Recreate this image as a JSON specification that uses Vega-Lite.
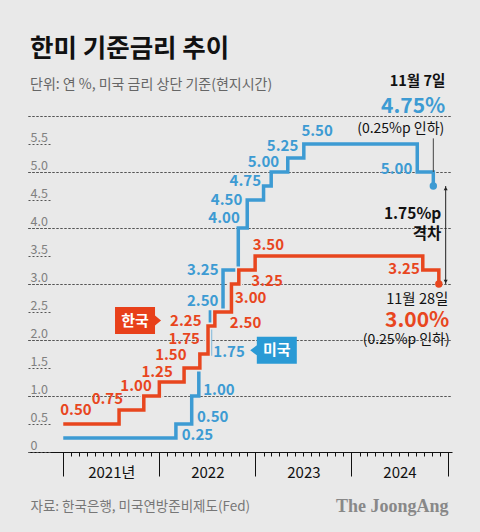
{
  "$schema": "https://vega.github.io/schema/vega-lite/v6.json",
  "width": 424,
  "height": 336,
  "autosize": {"type": "none"},
  "padding": {"left": 28, "top": 116, "right": 28, "bottom": 80},
  "background": "#e9e9e9",
  "title": {
    "text": "한미 기준금리 추이",
    "subtitle": "단위: 연 %, 미국 금리 상단 기준(현지시간)",
    "anchor": "start",
    "frame": "group",
    "offset": -18,
    "dx": 2,
    "font": "Noto Sans CJK KR",
    "fontSize": 25.5,
    "fontWeight": "bold",
    "color": "#111111",
    "subtitleFont": "Noto Sans CJK KR",
    "subtitleFontSize": 14,
    "subtitleColor": "#666666",
    "subtitlePadding": 16
  },
  "data": {
    "values": [
      {"s": "미국", "date": "2021-01-01", "rate": 0.25},
      {"s": "미국", "date": "2022-03-05", "rate": 0.50},
      {"s": "미국", "date": "2022-05-04", "rate": 1.00},
      {"s": "미국", "date": "2022-05-31", "rate": 1.75},
      {"s": "미국", "date": "2022-07-14", "rate": 2.50},
      {"s": "미국", "date": "2022-08-31", "rate": 3.25},
      {"s": "미국", "date": "2022-10-28", "rate": 4.00},
      {"s": "미국", "date": "2022-12-01", "rate": 4.50},
      {"s": "미국", "date": "2023-02-01", "rate": 4.75},
      {"s": "미국", "date": "2023-03-02", "rate": 5.00},
      {"s": "미국", "date": "2023-05-04", "rate": 5.25},
      {"s": "미국", "date": "2023-07-04", "rate": 5.50},
      {"s": "미국", "date": "2024-09-07", "rate": 5.00},
      {"s": "미국", "date": "2024-11-07", "rate": 4.75},
      {"s": "한국", "date": "2021-01-01", "rate": 0.50},
      {"s": "한국", "date": "2021-08-01", "rate": 0.75},
      {"s": "한국", "date": "2021-11-03", "rate": 1.00},
      {"s": "한국", "date": "2022-01-01", "rate": 1.25},
      {"s": "한국", "date": "2022-04-05", "rate": 1.50},
      {"s": "한국", "date": "2022-06-04", "rate": 1.75},
      {"s": "한국", "date": "2022-07-05", "rate": 2.25},
      {"s": "한국", "date": "2022-07-31", "rate": 2.50},
      {"s": "한국", "date": "2022-10-02", "rate": 3.00},
      {"s": "한국", "date": "2022-10-30", "rate": 3.25},
      {"s": "한국", "date": "2022-12-31", "rate": 3.50},
      {"s": "한국", "date": "2024-09-28", "rate": 3.25},
      {"s": "한국", "date": "2024-11-28", "rate": 3.00}
    ]
  },
  "resolve": {"axis": {"y": "independent"}},
  "encoding": {
    "x": {
      "field": "date",
      "type": "temporal",
      "scale": {
        "type": "utc",
        "domain": [
          {"year": 2020, "month": 8, "date": 20, "utc": true},
          {"year": 2025, "month": 1, "date": 17, "utc": true}
        ]
      },
      "axis": {
        "tickCount": {"interval": "month", "step": 1},
        "domainColor": "#111111",
        "domainWidth": 1.2,
        "tickColor": "#111111",
        "tickWidth": 1,
        "tickSize": {"condition": {"test": "utcmonth(datum.value)===0", "value": 24}, "value": 4},
        "tickOpacity": {"condition": {"test": "datum.value < utc(2021,0,1)", "value": 0}, "value": 1},
        "labelExpr": "utcmonth(datum.value)===0 && utcyear(datum.value)<2025 ? (utcyear(datum.value)===2021 ? '2021년' : ''+utcyear(datum.value)) : ''",
        "labelOffset": 48,
        "labelPadding": -4,
        "labelBaseline": "middle",
        "labelAlign": "center",
        "labelFont": "Noto Sans CJK KR",
        "labelFontSize": 15,
        "labelColor": "#111111",
        "labelOverlap": false,
        "labelFlush": false,
        "labelBound": false,
        "grid": false,
        "title": "자료: 한국은행, 미국연방준비제도(Fed)",
        "titleX": 2,
        "titleY": 54,
        "titleAlign": "left",
        "titleAnchor": "start",
        "titleBaseline": "middle",
        "titleFont": "Noto Sans CJK KR",
        "titleFontSize": 13.5,
        "titleFontWeight": "normal",
        "titleColor": "#777777"
      }
    },
    "y": {
      "field": "rate",
      "type": "quantitative",
      "scale": {"domain": [0, 6], "nice": false},
      "axis": null
    }
  },
  "layer": [
    {
      "transform": [{"filter": "datum.s==='한국'"}],
      "mark": {"type": "line", "interpolate": "step-after", "strokeOpacity": 0},
      "encoding": {
        "y": {
          "field": "rate",
          "type": "quantitative",
          "scale": {"domain": [0, 6], "nice": false},
          "axis": {
            "orient": "left",
            "values": [1, 2, 3, 4, 5, 6],
            "grid": true,
            "gridColor": "#555555",
            "gridDash": [2, 2],
            "gridWidth": 1,
            "gridOpacity": 1,
            "labels": false,
            "ticks": true,
            "tickSize": -424,
            "tickColor": "#555555",
            "tickDash": [2, 2],
            "tickWidth": 1,
            "domain": false,
            "title": null
          }
        }
      }
    },
    {
      "transform": [{"filter": "datum.s==='미국'"}],
      "mark": {"type": "line", "interpolate": "step-after", "strokeWidth": 3.5, "color": "#3d9bd3"},
      "encoding": {
        "y": {
          "field": "rate",
          "type": "quantitative",
          "scale": {"domain": [0, 6], "nice": false},
          "axis": {
            "orient": "left",
            "values": [0, 0.5, 1, 1.5, 2, 2.5, 3, 3.5, 4, 4.5, 5, 5.5],
            "grid": false,
            "labelExpr": "datum.value===0 ? '0' : format(datum.value,'.1f')",
            "labelAlign": "left",
            "labelBaseline": "alphabetic",
            "labelPadding": 22,
            "labelOffset": -3,
            "labelColor": "#808080",
            "labelFont": "Noto Sans CJK KR",
            "labelFontSize": 12.5,
            "labelOverlap": false,
            "domain": false,
            "tickSize": -24,
            "tickColor": "#555555",
            "tickDash": [2, 2],
            "tickWidth": 1,
            "title": "The JoongAng",
            "titleAngle": 0,
            "titleX": 420,
            "titleY": 390,
            "titleAlign": "right",
            "titleBaseline": "middle",
            "titleFont": "Liberation Serif",
            "titleFontSize": 18,
            "titleFontWeight": "bold",
            "titleColor": "#888888"
          }
        }
      }
    },
    {
      "transform": [{"filter": "datum.s==='한국'"}],
      "mark": {"type": "line", "interpolate": "step-after", "strokeWidth": 7, "color": "#e9e9e9"}
    },
    {
      "transform": [{"filter": "datum.s==='한국'"}],
      "mark": {"type": "line", "interpolate": "step-after", "strokeWidth": 3.5, "color": "#e8461e"}
    },
    {
      "transform": [{"filter": "datum.s==='미국' && datum.rate===4.75 && utcyear(datum.date)===2024"}],
      "mark": {"type": "rule", "strokeWidth": 1, "color": "#444444"},
      "encoding": {"y": {"datum": 5, "axis": null}, "y2": {"datum": 5.6}}
    },
    {
      "transform": [{"filter": "datum.s==='미국' && datum.rate===4.75 && utcyear(datum.date)===2024"}],
      "mark": {"type": "rule", "strokeWidth": 1, "color": "#222222"},
      "encoding": {
        "x": {"datum": {"year": 2024, "month": 12, "date": 24, "utc": true}, "type": "temporal"},
        "y2": {"datum": 3}
      }
    },
    {
      "transform": [{"filter": "datum.s==='미국' && datum.rate===4.75 && utcyear(datum.date)===2024"}],
      "mark": {"type": "point", "shape": "triangle-up", "size": 16, "filled": true, "opacity": 1, "color": "#222222", "yOffset": 2.5},
      "encoding": {"x": {"datum": {"year": 2024, "month": 12, "date": 24, "utc": true}, "type": "temporal"}}
    },
    {
      "transform": [{"filter": "datum.s==='한국' && datum.rate===3 && utcyear(datum.date)===2024"}],
      "mark": {"type": "point", "shape": "triangle-down", "size": 16, "filled": true, "opacity": 1, "color": "#222222", "yOffset": -2.5},
      "encoding": {"x": {"datum": {"year": 2024, "month": 12, "date": 24, "utc": true}, "type": "temporal"}}
    },
    {
      "transform": [{"filter": "utcyear(datum.date)===2024 && utcmonth(datum.date)===10"}],
      "mark": {"type": "point", "filled": true, "opacity": 1, "size": 55},
      "encoding": {
        "color": {"field": "s", "type": "nominal", "scale": {"domain": ["미국", "한국"], "range": ["#3d9bd3", "#e8461e"]}, "legend": null}
      }
    },
    {
      "transform": [{"filter": "datum.s==='한국' && datum.rate===2.25"}],
      "mark": {"type": "point", "shape": "M-1,-0.675L1,-0.675L1,-0.25L1.3,0L1,0.25L1,0.675L-1,0.675Z", "size": 1600, "filled": true, "opacity": 1, "color": "#e8401a", "xOffset": -73, "yOffset": -5.5}
    },
    {
      "transform": [{"filter": "datum.s==='한국' && datum.rate===2.25"}],
      "mark": {"type": "text", "text": "한국", "color": "#ffffff", "align": "center", "dx": -73, "dy": -5.5, "fontSize": 15}
    },
    {
      "transform": [{"filter": "datum.s==='미국' && datum.rate===1.75"}],
      "mark": {"type": "point", "shape": "M1,-0.675L-1,-0.675L-1,-0.25L-1.33,0L-1,0.25L-1,0.675L1,0.675Z", "size": 1600, "filled": true, "opacity": 1, "color": "#2a9ad5", "xOffset": 78, "yOffset": -3.7}
    },
    {
      "transform": [{"filter": "datum.s==='미국' && datum.rate===1.75"}],
      "mark": {"type": "text", "text": "미국", "color": "#ffffff", "align": "center", "dx": 78, "dy": -3.7, "fontSize": 15}
    },
    {"transform": [{"filter": "datum.s==='한국' && datum.rate===0.5"}], "mark": {"type": "text", "align": "left", "dx": -3, "dy": -14, "color": "#e8461e"}, "encoding": {"text": {"field": "rate", "type": "quantitative", "format": ".2f"}}},
    {"transform": [{"filter": "datum.s==='한국' && datum.rate===0.75"}], "mark": {"type": "text", "align": "right", "dx": 4, "dy": -11, "color": "#e8461e"}, "encoding": {"text": {"field": "rate", "type": "quantitative", "format": ".2f"}}},
    {"transform": [{"filter": "datum.s==='한국' && datum.rate===1"}], "mark": {"type": "text", "align": "right", "dx": 8, "dy": -10, "color": "#e8461e"}, "encoding": {"text": {"field": "rate", "type": "quantitative", "format": ".2f"}}},
    {"transform": [{"filter": "datum.s==='한국' && datum.rate===1.25"}], "mark": {"type": "text", "align": "right", "dx": 13.5, "dy": -10, "color": "#e8461e"}, "encoding": {"text": {"field": "rate", "type": "quantitative", "format": ".2f"}}},
    {"transform": [{"filter": "datum.s==='한국' && datum.rate===1.5"}], "mark": {"type": "text", "align": "right", "dx": 2.5, "dy": -13, "color": "#e8461e"}, "encoding": {"text": {"field": "rate", "type": "quantitative", "format": ".2f"}}},
    {"transform": [{"filter": "datum.s==='한국' && datum.rate===1.75"}], "mark": {"type": "text", "align": "right", "dx": 0, "dy": -15.5, "color": "#e8461e"}, "encoding": {"text": {"field": "rate", "type": "quantitative", "format": ".2f"}}},
    {"transform": [{"filter": "datum.s==='한국' && datum.rate===2.25"}], "mark": {"type": "text", "align": "right", "dx": -6.5, "dy": -5.5, "color": "#e8461e"}, "encoding": {"text": {"field": "rate", "type": "quantitative", "format": ".2f"}}},
    {"transform": [{"filter": "datum.s==='한국' && datum.rate===2.5"}], "mark": {"type": "text", "align": "left", "dx": 15, "dy": 11, "color": "#e8461e"}, "encoding": {"text": {"field": "rate", "type": "quantitative", "format": ".2f"}}},
    {"transform": [{"filter": "datum.s==='한국' && datum.rate===3 && utcyear(datum.date)===2022"}], "mark": {"type": "text", "align": "left", "dx": 3.5, "dy": 13.5, "color": "#e8461e"}, "encoding": {"text": {"field": "rate", "type": "quantitative", "format": ".2f"}}},
    {"transform": [{"filter": "datum.s==='한국' && datum.rate===3.25 && utcyear(datum.date)===2022"}], "mark": {"type": "text", "align": "left", "dx": 12.5, "dy": 10.5, "color": "#e8461e"}, "encoding": {"text": {"field": "rate", "type": "quantitative", "format": ".2f"}}},
    {"transform": [{"filter": "datum.s==='한국' && datum.rate===3.5"}], "mark": {"type": "text", "align": "left", "dx": -2.5, "dy": -11, "color": "#e8461e"}, "encoding": {"text": {"field": "rate", "type": "quantitative", "format": ".2f"}}},
    {"transform": [{"filter": "datum.s==='한국' && datum.rate===3.25 && utcyear(datum.date)===2024"}], "mark": {"type": "text", "align": "right", "dx": -3, "dy": -1.5, "color": "#e8461e"}, "encoding": {"text": {"field": "rate", "type": "quantitative", "format": ".2f"}}},
    {"transform": [{"filter": "datum.s==='미국' && datum.rate===0.25"}], "mark": {"type": "text", "align": "left", "dx": 118.5, "dy": -3, "color": "#3d9bd3"}, "encoding": {"text": {"field": "rate", "type": "quantitative", "format": ".2f"}}},
    {"transform": [{"filter": "datum.s==='미국' && datum.rate===0.5"}], "mark": {"type": "text", "align": "left", "dx": 21, "dy": -7.5, "color": "#3d9bd3"}, "encoding": {"text": {"field": "rate", "type": "quantitative", "format": ".2f"}}},
    {"transform": [{"filter": "datum.s==='미국' && datum.rate===1"}], "mark": {"type": "text", "align": "left", "dx": 11.5, "dy": -6, "color": "#3d9bd3"}, "encoding": {"text": {"field": "rate", "type": "quantitative", "format": ".2f"}}},
    {"transform": [{"filter": "datum.s==='미국' && datum.rate===1.75"}], "mark": {"type": "text", "align": "left", "dx": 14.5, "dy": -2, "color": "#3d9bd3"}, "encoding": {"text": {"field": "rate", "type": "quantitative", "format": ".2f"}}},
    {"transform": [{"filter": "datum.s==='미국' && datum.rate===2.5"}], "mark": {"type": "text", "align": "right", "dx": 8, "dy": -11.5, "color": "#3d9bd3"}, "encoding": {"text": {"field": "rate", "type": "quantitative", "format": ".2f"}}},
    {"transform": [{"filter": "datum.s==='미국' && datum.rate===3.25"}], "mark": {"type": "text", "align": "right", "dx": -4.5, "dy": 0, "color": "#3d9bd3"}, "encoding": {"text": {"field": "rate", "type": "quantitative", "format": ".2f"}}},
    {"transform": [{"filter": "datum.s==='미국' && datum.rate===4"}], "mark": {"type": "text", "align": "right", "dx": 1.5, "dy": -10.5, "color": "#3d9bd3"}, "encoding": {"text": {"field": "rate", "type": "quantitative", "format": ".2f"}}},
    {"transform": [{"filter": "datum.s==='미국' && datum.rate===4.5"}], "mark": {"type": "text", "align": "right", "dx": -5, "dy": 0, "color": "#3d9bd3"}, "encoding": {"text": {"field": "rate", "type": "quantitative", "format": ".2f"}}},
    {"transform": [{"filter": "datum.s==='미국' && datum.rate===4.75 && utcyear(datum.date)===2023"}], "mark": {"type": "text", "align": "right", "dx": -2.5, "dy": -5.5, "color": "#3d9bd3"}, "encoding": {"text": {"field": "rate", "type": "quantitative", "format": ".2f"}}},
    {"transform": [{"filter": "datum.s==='미국' && datum.rate===5 && utcyear(datum.date)===2023"}], "mark": {"type": "text", "align": "right", "dx": 8, "dy": -10.5, "color": "#3d9bd3"}, "encoding": {"text": {"field": "rate", "type": "quantitative", "format": ".2f"}}},
    {"transform": [{"filter": "datum.s==='미국' && datum.rate===5.25"}], "mark": {"type": "text", "align": "right", "dx": 10.5, "dy": -12.5, "color": "#3d9bd3"}, "encoding": {"text": {"field": "rate", "type": "quantitative", "format": ".2f"}}},
    {"transform": [{"filter": "datum.s==='미국' && datum.rate===5.5"}], "mark": {"type": "text", "align": "right", "dx": 29, "dy": -13.5, "color": "#3d9bd3"}, "encoding": {"text": {"field": "rate", "type": "quantitative", "format": ".2f"}}},
    {"transform": [{"filter": "datum.s==='미국' && datum.rate===5 && utcyear(datum.date)===2024"}], "mark": {"type": "text", "align": "right", "dx": -5, "dy": -3, "color": "#3d9bd3"}, "encoding": {"text": {"field": "rate", "type": "quantitative", "format": ".2f"}}},
    {"transform": [{"filter": "datum.s==='미국' && datum.rate===4.75 && utcyear(datum.date)===2024"}], "mark": {"type": "text", "align": "right", "dx": 12, "dy": -104, "text": "11월 7일", "fontSize": 14.5, "color": "#111111"}},
    {"transform": [{"filter": "datum.s==='미국' && datum.rate===4.75 && utcyear(datum.date)===2024"}], "mark": {"type": "text", "align": "right", "dx": 12, "dy": -79, "text": "4.75%", "fontSize": 21, "color": "#3d9bd3"}},
    {"transform": [{"filter": "datum.s==='미국' && datum.rate===4.75 && utcyear(datum.date)===2024"}], "mark": {"type": "text", "align": "right", "dx": 11, "dy": -57, "text": "(0.25%p 인하)", "fontSize": 14, "fontWeight": "normal", "color": "#111111"}},
    {"transform": [{"filter": "datum.s==='미국' && datum.rate===4.75 && utcyear(datum.date)===2024"}], "mark": {"type": "text", "align": "right", "dx": 8, "dy": 27.5, "text": "1.75%p", "fontSize": 15.5, "color": "#111111"}},
    {"transform": [{"filter": "datum.s==='미국' && datum.rate===4.75 && utcyear(datum.date)===2024"}], "mark": {"type": "text", "align": "right", "dx": 8, "dy": 47.5, "text": "격차", "fontSize": 15.5, "color": "#111111"}},
    {"transform": [{"filter": "datum.s==='한국' && datum.rate===3 && utcyear(datum.date)===2024"}], "mark": {"type": "text", "align": "right", "dx": 9.5, "dy": 16, "text": "11월 28일", "fontSize": 14.5, "fontWeight": "normal", "color": "#111111"}},
    {"transform": [{"filter": "datum.s==='한국' && datum.rate===3 && utcyear(datum.date)===2024"}], "mark": {"type": "text", "align": "right", "dx": 10.5, "dy": 37, "text": "3.00%", "fontSize": 21, "color": "#e8461e"}},
    {"transform": [{"filter": "datum.s==='한국' && datum.rate===3 && utcyear(datum.date)===2024"}], "mark": {"type": "text", "align": "right", "dx": 11, "dy": 56, "text": "(0.25%p 인하)", "fontSize": 14, "fontWeight": "normal", "color": "#111111"}}
  ],
  "config": {
    "view": {"stroke": null},
    "text": {"font": "Noto Sans CJK KR", "fontSize": 15, "fontWeight": "bold", "baseline": "middle"}
  }
}
